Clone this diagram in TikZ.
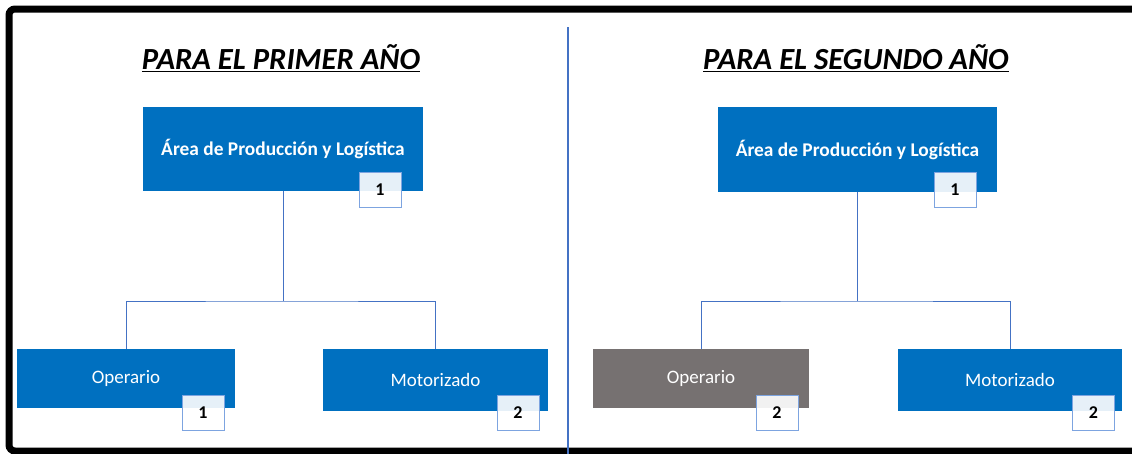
\documentclass[tikz,border=0pt]{standalone}
\usepackage{fontspec}
\setmainfont{Carlito}
\definecolor{boxblue}{HTML}{0070C0}
\definecolor{boxgray}{HTML}{767171}
\definecolor{linkblue}{HTML}{4472C4}
\definecolor{numedge}{HTML}{7DA4E0}
\tikzset{
  unit/.style={draw=none, fill=boxblue, text=white, inner sep=0pt, font=\fontsize{19}{21}\selectfont},
  topunit/.style={unit, font=\fontsize{19.4}{21}\selectfont\bfseries},
  grayunit/.style={unit, fill=boxgray},
  numbox/.style={draw=numedge, line width=0.8pt, fill=white, fill opacity=0.9, text opacity=1, text=black, inner sep=0pt, minimum width=42pt, minimum height=35pt, font=\fontsize{18}{20}\selectfont\bfseries},
  link/.style={draw=linkblue, line width=1pt},
  ttl/.style={font=\fontsize{30.7}{33}\selectfont\bfseries\itshape, inner sep=0pt}
}
\begin{document}
\begin{tikzpicture}[x=1pt,y=-1pt]
\useasboundingbox (0,0) rectangle (1132,453);
\fill[white] (0,0) rectangle (1132,453);
% frame
\draw[line width=7pt, rounded corners=6pt] (1140,9) -- (9,9) -- (9,451) -- (1140,451);
% divider
\draw[linkblue, line width=2pt] (568,27) coordinate (dtop) -- (568,455) coordinate (dbot);
% titles
\node[ttl] (t1) at (281,58) {\underline{PARA EL PRIMER AÑO}};
\node[ttl] (t2) at (856,58) {\underline{PARA EL SEGUNDO AÑO}};
% left tree
\node[topunit, minimum width=280pt, minimum height=84pt] (a1) at (283,149) {Área de Producción y Logística};
\node[unit, minimum width=218pt, minimum height=59pt] (o1) at (126,378.5) {Operario};
\node[unit, minimum width=225pt, minimum height=62pt] (m1) at (435.5,380) {Motorizado};
\coordinate (j1) at (283,301);
\draw[link] (a1.south) -- (j1);
\draw[link] (o1.north) |- (j1) -| (m1.north);
\node[numbox] (n1) at (380,189.5) {1};
\node[numbox] (n2) at (203,413) {1};
\node[numbox] (n3) at (518,413) {2};
% right tree
\node[topunit, minimum width=279pt, minimum height=85pt] (a2) at (857.5,149.5) {Área de Producción y Logística};
\node[grayunit, minimum width=216pt, minimum height=59pt] (o2) at (701,378.5) {Operario};
\node[unit, minimum width=224pt, minimum height=62pt] (m2) at (1010,380) {Motorizado};
\coordinate (j2) at (857.5,301);
\draw[link] (a2.south) -- (j2);
\draw[link] (o2.north) |- (j2) -| (m2.north);
\node[numbox] (n4) at (955,189.5) {1};
\node[numbox] (n5) at (777,413) {2};
\node[numbox] (n6) at (1093.5,413) {2};
\end{tikzpicture}
\end{document}
